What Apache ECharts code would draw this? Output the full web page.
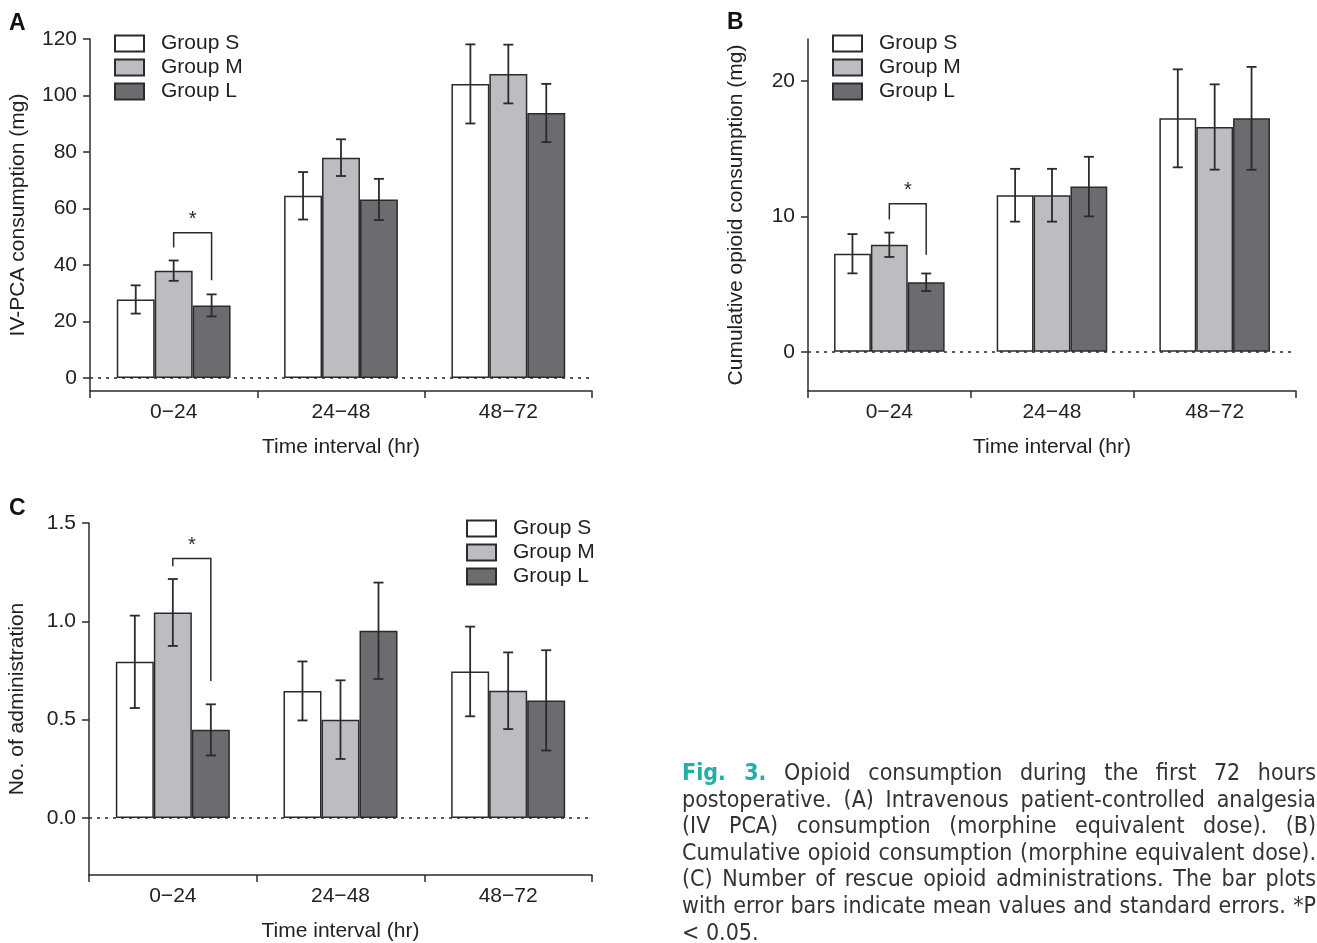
<!DOCTYPE html>
<html>
<head>
<meta charset="utf-8">
<script src="https://cdn.jsdelivr.net/npm/echarts@6/dist/echarts.min.js"></script>
<style>
    html, body { margin: 0; padding: 0; background: #fff; }
    #main { position: absolute; left: 0; top: 0; width: 1317px; height: 943px; }
    .caption {
        position: absolute; left: 682px; top: 759px; width: 634px;
        font-family: "Liberation Sans Narrow", "DejaVu Sans Condensed", "Noto Sans", sans-serif;
        font-size: 23px; line-height: 26.6px; color: #333;
    }
    .caption div { text-align: justify; text-align-last: justify; white-space: nowrap; }
    .caption div.last { text-align-last: left; }
    .caption b { color: #22b0a6; font-weight: bold; }
</style>
</head>
<body>
<div id="main"></div>
<div class="caption">
    <div><b>Fig. 3.</b> Opioid consumption during the first 72 hours</div>
    <div>postoperative. (A) Intravenous patient-controlled analgesia</div>
    <div>(IV PCA) consumption (morphine equivalent dose). (B)</div>
    <div>Cumulative opioid consumption (morphine equivalent dose).</div>
    <div>(C) Number of rescue opioid administrations. The bar plots</div>
    <div>with error bars indicate mean values and standard errors. *P</div>
    <div class="last">&lt; 0.05.</div>
</div>
<script>
// 数据 ===================
var categories = ['0\u221224', '24\u221248', '48\u221272']
var groupNames = ['Group S', 'Group M', 'Group L']
var groupColors = ['#ffffff', '#bcbdc0', '#6b6c70']

// A  IV-PCA consumption (mg)
var aMeanS = [27.8, 64.5, 104.1]
var aMeanM = [38.0, 78.0, 107.6]
var aMeanL = [25.7, 63.2, 93.8]
var aErrS = [5.0, 8.4, 14.0]
var aErrM = [3.6, 6.5, 10.4]
var aErrL = [3.9, 7.3, 10.3]
var aTicks = [0, 20, 40, 60, 80, 100, 120]
var aBracket = [0, 51.4, 46.2, 34.6]   // category, top, left end, right end

// B  Cumulative opioid consumption (mg)
var bMeanS = [7.24, 11.56, 17.24]
var bMeanM = [7.9, 11.56, 16.6]
var bMeanL = [5.13, 12.2, 17.24]
var bErrS = [1.45, 1.95, 3.62]
var bErrM = [0.9, 1.95, 3.15]
var bErrL = [0.65, 2.2, 3.8]
var bTicks = [0, 10, 20]
var bBracket = [0, 10.94, 9.76, 7.16]

// C  No. of administration
var cMeanS = [0.794, 0.646, 0.745]
var cMeanM = [1.045, 0.5, 0.647]
var cMeanL = [0.448, 0.952, 0.598]
var cErrS = [0.235, 0.15, 0.228]
var cErrM = [0.17, 0.2, 0.195]
var cErrL = [0.13, 0.245, 0.255]
var cTicks = [0, 0.5, 1.0, 1.5]
var cBracket = [0, 1.32, 1.28, 0.696]

var FONT = '"Liberation Sans", Arial, sans-serif'
var INK = '#2b2b2b'
var GAP = 0.32
var FS = 21

var panels = [
    { means: [aMeanS, aMeanM, aMeanL], errs: [aErrS, aErrM, aErrL], ticks: aTicks, bracket: aBracket,
      min: -4.6, max: 120, yName: 'IV-PCA consumption (mg)', digits: 0,
      grid: { left: 90, right: 725, top: 39, bottom: 552 }, legend: { left: 114, top: 33 } },
    { means: [bMeanS, bMeanM, bMeanL], errs: [bErrS, bErrM, bErrL], ticks: bTicks, bracket: bBracket,
      min: -2.9, max: 23.1, yName: 'Cumulative opioid consumption (mg)', digits: 0,
      grid: { left: 808, right: 21, top: 39, bottom: 552 }, legend: { left: 832, top: 33 } },
    { means: [cMeanS, cMeanM, cMeanL], errs: [cErrS, cErrM, cErrL], ticks: cTicks, bracket: cBracket,
      min: -0.29, max: 1.5, yName: 'No. of administration', digits: 1,
      grid: { left: 89, right: 725, top: 523, bottom: 67 }, legend: { left: 466, top: 518 } }
]

function errorBar(params, api) {
    var cat = api.value(0)
    var mean = api.value(1)
    var se = api.value(2)
    var g = api.value(3)
    var band = api.size([1, 0])[0]
    var barW = band * (1 - GAP) / 3
    var x = api.coord([cat, mean])[0] + (g - 1) * barW
    var top = api.coord([cat, mean + se])[1]
    var bot = api.coord([cat, mean - se])[1]
    var style = { stroke: INK, lineWidth: 1.8 }
    return {
        type: 'group',
        children: [
            { type: 'line', shape: { x1: x, y1: top, x2: x, y2: bot }, style: style },
            { type: 'line', shape: { x1: x - 5, y1: top, x2: x + 5, y2: top }, style: style },
            { type: 'line', shape: { x1: x - 5, y1: bot, x2: x + 5, y2: bot }, style: style }
        ]
    }
}

function bracket(params, api) {
    var cat = api.value(0)
    var band = api.size([1, 0])[0]
    var barW = band * (1 - GAP) / 3
    var xM = api.coord([cat, 0])[0]
    var xL = xM + barW
    var yTop = api.coord([cat, api.value(1)])[1]
    var yLeft = api.coord([cat, api.value(2)])[1]
    var yRight = api.coord([cat, api.value(3)])[1]
    return {
        type: 'group',
        children: [
            { type: 'polyline', shape: { points: [[xM, yLeft], [xM, yTop], [xL, yTop], [xL, yRight]] },
              style: { stroke: INK, lineWidth: 1.5, fill: null } },
            { type: 'text', style: { text: '*', x: (xM + xL) / 2, y: yTop - 3, fill: INK,
              font: '20px ' + FONT, textAlign: 'center', textVerticalAlign: 'bottom' } }
        ]
    }
}

var axisLineStyle = { color: INK, width: 1.5 }
var grids = [], xAxes = [], yAxes = [], series = [], legends = []

panels.forEach(function (p, i) {
    grids.push(p.grid)
    xAxes.push({
        type: 'category', gridIndex: i, data: categories,
        axisLine: { onZero: false, lineStyle: axisLineStyle },
        axisTick: { show: true, interval: 0, length: 7, lineStyle: axisLineStyle },
        axisLabel: { fontSize: FS, color: '#222', margin: 11, fontFamily: FONT },
        name: 'Time interval (hr)', nameLocation: 'middle', nameGap: 46,
        nameTextStyle: { fontSize: FS, color: '#222', fontFamily: FONT }
    })
    yAxes.push({
        type: 'value', gridIndex: i, min: p.min, max: p.max,
        axisLine: { show: true, lineStyle: axisLineStyle },
        axisTick: { show: true, length: 7, lineStyle: axisLineStyle, customValues: p.ticks },
        splitLine: { show: false },
        axisLabel: {
            fontSize: FS, color: '#222', margin: 13, fontFamily: FONT, customValues: p.ticks,
            formatter: function (v) { return v.toFixed(p.digits) }
        },
        name: p.yName, nameLocation: 'middle', nameGap: 61,
        nameTextStyle: { fontSize: FS, color: '#222', fontFamily: FONT }
    })
    legends.push({
        data: groupNames, orient: 'vertical', left: p.legend.left, top: p.legend.top,
        padding: 0, itemWidth: 29, itemHeight: 16, itemGap: 3, icon: 'rect',
        selectedMode: false,
        textStyle: { fontSize: FS, color: '#222', fontFamily: FONT, padding: [0, 0, 0, 12] }
    })
    for (var g = 0; g < 3; g++) {
        var s = {
            name: groupNames[g], type: 'bar', xAxisIndex: i, yAxisIndex: i,
            data: p.means[g], barGap: '0%', barCategoryGap: (GAP * 100) + '%',
            itemStyle: { color: groupColors[g], borderColor: INK, borderWidth: 1.5 },
            silent: true
        }
        if (g === 0) {
            s.markLine = {
                silent: true, symbol: 'none', label: { show: false },
                lineStyle: { color: INK, type: [3, 5], width: 1.5 },
                data: [{ yAxis: 0 }]
            }
        }
        series.push(s)
    }
    for (var g2 = 0; g2 < 3; g2++) {
        series.push({
            type: 'custom', xAxisIndex: i, yAxisIndex: i, renderItem: errorBar, z: 5, silent: true,
            data: p.means[g2].map(function (m, k) { return [k, m, p.errs[g2][k], g2] })
        })
    }
    series.push({
        type: 'custom', xAxisIndex: i, yAxisIndex: i, renderItem: bracket, z: 5, silent: true,
        data: [p.bracket]
    })
})

var myChart = echarts.init(document.getElementById('main'))

var option = {
    animation: false,
    grid: grids,
    xAxis: xAxes,
    yAxis: yAxes,
    legend: legends,
    series: series,
    graphic: [
        { type: 'text', left: 9, top: 12, style: { text: 'A', font: 'bold 23px ' + FONT, fill: '#111' } },
        { type: 'text', left: 727, top: 11, style: { text: 'B', font: 'bold 23px ' + FONT, fill: '#111' } },
        { type: 'text', left: 9, top: 497, style: { text: 'C', font: 'bold 23px ' + FONT, fill: '#111' } }
    ]
}

myChart.setOption(option)

window.addEventListener('resize', function () {
    myChart.resize()
})
</script>
</body>
</html>
